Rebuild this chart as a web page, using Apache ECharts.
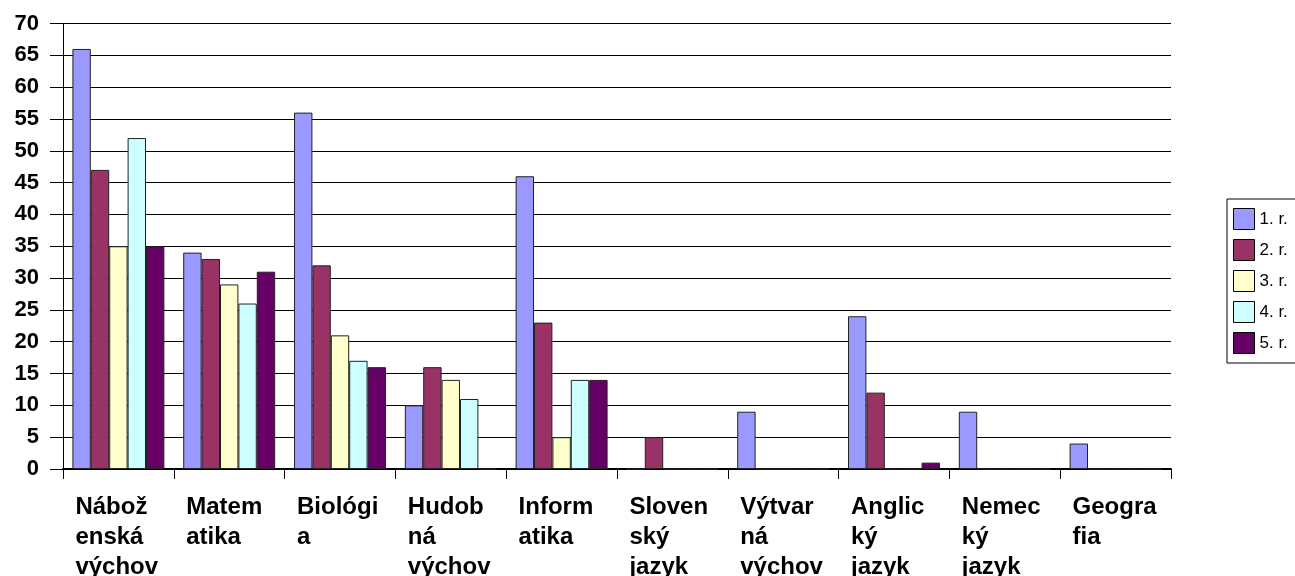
<!DOCTYPE html>
<html>
<head>
<meta charset="utf-8">
<script src="https://cdn.jsdelivr.net/npm/echarts@6/dist/echarts.min.js"></script>
<style>
html,body{margin:0;padding:0;background:#fff;}
#chart{width:1295px;height:576px;}
</style>
</head>
<body>
<div id="chart"></div>
<script>
const categories = ["Náboženská výchova","Matematika","Biológia","Hudobná výchova","Informatika","Slovenský jazyk","Výtvarná výchova","Anglický jazyk","Nemecký jazyk","Geografia"];
const categoryLabels = ["Nábož\nenská\nvýchov\na","Matem\natika","Biológi\na","Hudob\nná\nvýchov\na","Inform\natika","Sloven\nský\njazyk","Výtvar\nná\nvýchov\na","Anglic\nký\njazyk","Nemec\nký\njazyk","Geogra\nfia"];
const seriesNames = ["1. r.","2. r.","3. r.","4. r.","5. r."];
const r1 = [66,34,56,10,46,0,9,24,9,4];
const r2 = [47,33,32,16,23,5,0,12,0,0];
const r3 = [35,29,21,14,5,0,0,0,0,0];
const r4 = [52,26,17,11,14,0,0,0,0,0];
const r5 = [35,31,16,0,14,0,0,1,0,0];
const yTicks = {min:0, max:70, interval:5};

const colors = ["#9999FF","#993366","#FFFFCC","#CCFFFF","#660066"];
const seriesData = [r1,r2,r3,r4,r5];
const font = "'Liberation Sans', Arial, sans-serif";

const chart = echarts.init(document.getElementById('chart'), null, {renderer:'canvas'});
chart.setOption({
  backgroundColor:'#ffffff',
  animation:false,
  textStyle:{fontFamily:font},
  color: colors,
  grid:{left:63, right:124, top:23.5, bottom:107, containLabel:false, outerBoundsMode:'none'},
  legend:{
    orient:'vertical',
    left:1227, top:199,
    padding:[9,40,9,6],
    borderColor:'#000', borderWidth:1,
    itemWidth:21, itemHeight:21, itemGap:9,
    icon:'rect',
    itemStyle:{borderColor:'#000', borderWidth:1},
    textStyle:{fontSize:17, color:'#000', fontFamily:font},
    data: seriesNames
  },
  xAxis:{
    type:'category',
    data: categories,
    boundaryGap:true,
    axisLine:{lineStyle:{color:'#000', width:2}},
    axisTick:{show:true, length:10, lineStyle:{color:'#000'}},
    axisLabel:{
      interval:0,
      margin:23,
      align:'center',
      verticalAlign:'top',
      formatter:function(v, i){
        return categoryLabels[i].split('\n').map(s=>'{a|'+s+'}').join('\n');
      },
      rich:{a:{width:86, align:'left', fontSize:24, fontWeight:'bold', color:'#000', fontFamily:font, lineHeight:30}}
    }
  },
  yAxis:{
    type:'value',
    min:yTicks.min, max:yTicks.max, interval:yTicks.interval,
    axisLine:{show:true, lineStyle:{color:'#000', width:1}},
    axisTick:{show:true, length:13, lineStyle:{color:'#000'}},
    splitLine:{show:true, lineStyle:{color:'#000', width:1}},
    axisLabel:{margin:24, fontSize:22, fontWeight:'bold', color:'#000', fontFamily:font}
  },
  series: seriesNames.map((n,i)=>({
    name:n, type:'bar', data:seriesData[i],
    barGap:'0%', barCategoryGap:'17%',
    itemStyle:{color:colors[i], borderColor:'#222', borderWidth:1}
  }))
});
</script>
</body>
</html>
